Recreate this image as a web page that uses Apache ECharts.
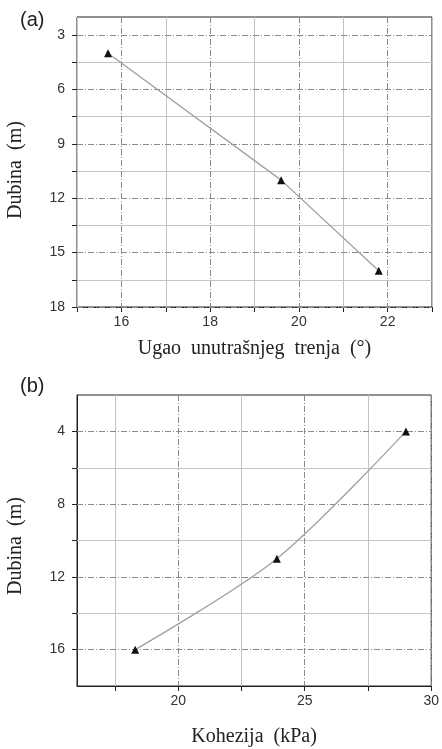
<!DOCTYPE html>
<html><head><meta charset="utf-8">
<script src="https://cdn.jsdelivr.net/npm/echarts@6/dist/echarts.min.js"></script>
<style>html,body{margin:0;padding:0;background:#fff}#c{width:442px;height:749px}</style>
</head><body><div id="c"></div>
<script>
// Panel (a)
const angleA = [15.7, 19.6, 21.8];
const depthA = [4, 11, 16];
const xTicksA = [16, 18, 20, 22];
const xMinorA = [15, 17, 19, 21, 23];
const yTicksA = [3, 6, 9, 12, 15, 18];
const yMinorA = [4.5, 7.5, 10.5, 13.5, 16.5];
// Panel (b)
const cohB = [29.0, 23.9, 18.3];
const depthB = [4, 11, 16];
const xTicksB = [20, 25, 30];
const xMinorB = [17.5, 22.5, 27.5];
const yTicksB = [4, 8, 12, 16];
const yMinorB = [6, 10, 14];

const chart = echarts.init(document.getElementById('c'));
const sans = 'Liberation Sans, Arial, sans-serif';
const serif = 'Liberation Serif, Times New Roman, serif';
const majorStyle = {color: '#8a8a8a', width: 1, type: [6, 2, 1, 2]};
const minorStyle = {color: '#c4c4c4', width: 1, type: 'solid'};

function gridLines(xMaj, xMin, yMaj, yMin) {
  const d = [];
  xMin.forEach(v => d.push({xAxis: v, lineStyle: minorStyle}));
  yMin.forEach(v => d.push({yAxis: v, lineStyle: minorStyle}));
  xMaj.forEach(v => d.push({xAxis: v, lineStyle: majorStyle}));
  yMaj.forEach(v => d.push({yAxis: v, lineStyle: majorStyle}));
  return {silent: true, symbol: ['none', 'none'], label: {show: false}, emphasis: {disabled: true}, animation: false, data: d};
}

function xAxisDef(idx, min, max, maj, minr, name, gap) {
  return {gridIndex: idx, type: 'value', min: min, max: max,
    name: name, nameLocation: 'middle', nameGap: gap,
    nameTextStyle: {fontFamily: serif, fontSize: 20, color: '#222'},
    axisLine: {show: true, onZero: false, lineStyle: {color: '#222', width: 1}},
    axisTick: {show: true, inside: false, length: 5, customValues: maj.concat(minr), lineStyle: {color: '#222'}},
    axisLabel: {customValues: maj, fontFamily: sans, fontSize: 14, color: '#333', margin: 8},
    splitLine: {show: false}};
}
function yAxisDef(idx, min, max, maj, minr) {
  return {gridIndex: idx, type: 'value', min: min, max: max, inverse: true,
    axisLine: {show: true, onZero: false, lineStyle: {color: '#222', width: 1}},
    axisTick: {show: true, inside: false, length: 5, customValues: maj.concat(minr), lineStyle: {color: '#222'}},
    axisLabel: {customValues: maj, fontFamily: sans, fontSize: 14, color: '#333', margin: 12},
    splitLine: {show: false}};
}

chart.setOption({
  animation: false,
  backgroundColor: '#fff',
  grid: [
    {left: 77, right: 10, top: 17, height: 290, show: true, borderColor: '#222', borderWidth: 1},
    {left: 77, right: 10, top: 395, height: 291, show: true, borderColor: '#222', borderWidth: 1}
  ],
  xAxis: [
    xAxisDef(0, 15, 23, xTicksA, xMinorA, 'Ugao  unutrašnjeg  trenja  (°)', 32),
    xAxisDef(1, 16, 30, xTicksB, xMinorB, 'Kohezija  (kPa)', 41)
  ],
  yAxis: [
    yAxisDef(0, 2, 18, yTicksA, yMinorA),
    yAxisDef(1, 2, 18, yTicksB, yMinorB)
  ],
  graphic: [
    {type: 'text', left: 20, top: 10, style: {text: '(a)', font: '20px ' + sans, fill: '#222'}},
    {type: 'text', left: 20, top: 376, style: {text: '(b)', font: '20px ' + sans, fill: '#222'}},
    {type: 'text', x: 16, y: 170, rotation: Math.PI / 2,
      style: {text: 'Dubina  (m)', font: '20px ' + serif, fill: '#222', align: 'center', verticalAlign: 'middle'}},
    {type: 'text', x: 16, y: 546, rotation: Math.PI / 2,
      style: {text: 'Dubina  (m)', font: '20px ' + serif, fill: '#222', align: 'center', verticalAlign: 'middle'}}
  ],
  series: [
    {type: 'line', xAxisIndex: 0, yAxisIndex: 0,
      data: angleA.map((v, i) => [v, depthA[i]]),
      symbol: 'triangle', symbolSize: 8,
      itemStyle: {color: '#111'}, lineStyle: {color: '#a0a0a0', width: 1.3},
      markLine: gridLines(xTicksA, xMinorA, yTicksA, yMinorA), z: 5},
    {type: 'line', xAxisIndex: 1, yAxisIndex: 1,
      data: cohB.map((v, i) => [v, depthB[i]]),
      symbol: 'triangle', symbolSize: 8, smooth: 0.3,
      itemStyle: {color: '#111'}, lineStyle: {color: '#a0a0a0', width: 1.3},
      markLine: gridLines(xTicksB, xMinorB, yTicksB, yMinorB), z: 5}
  ]
});
</script></body></html>
